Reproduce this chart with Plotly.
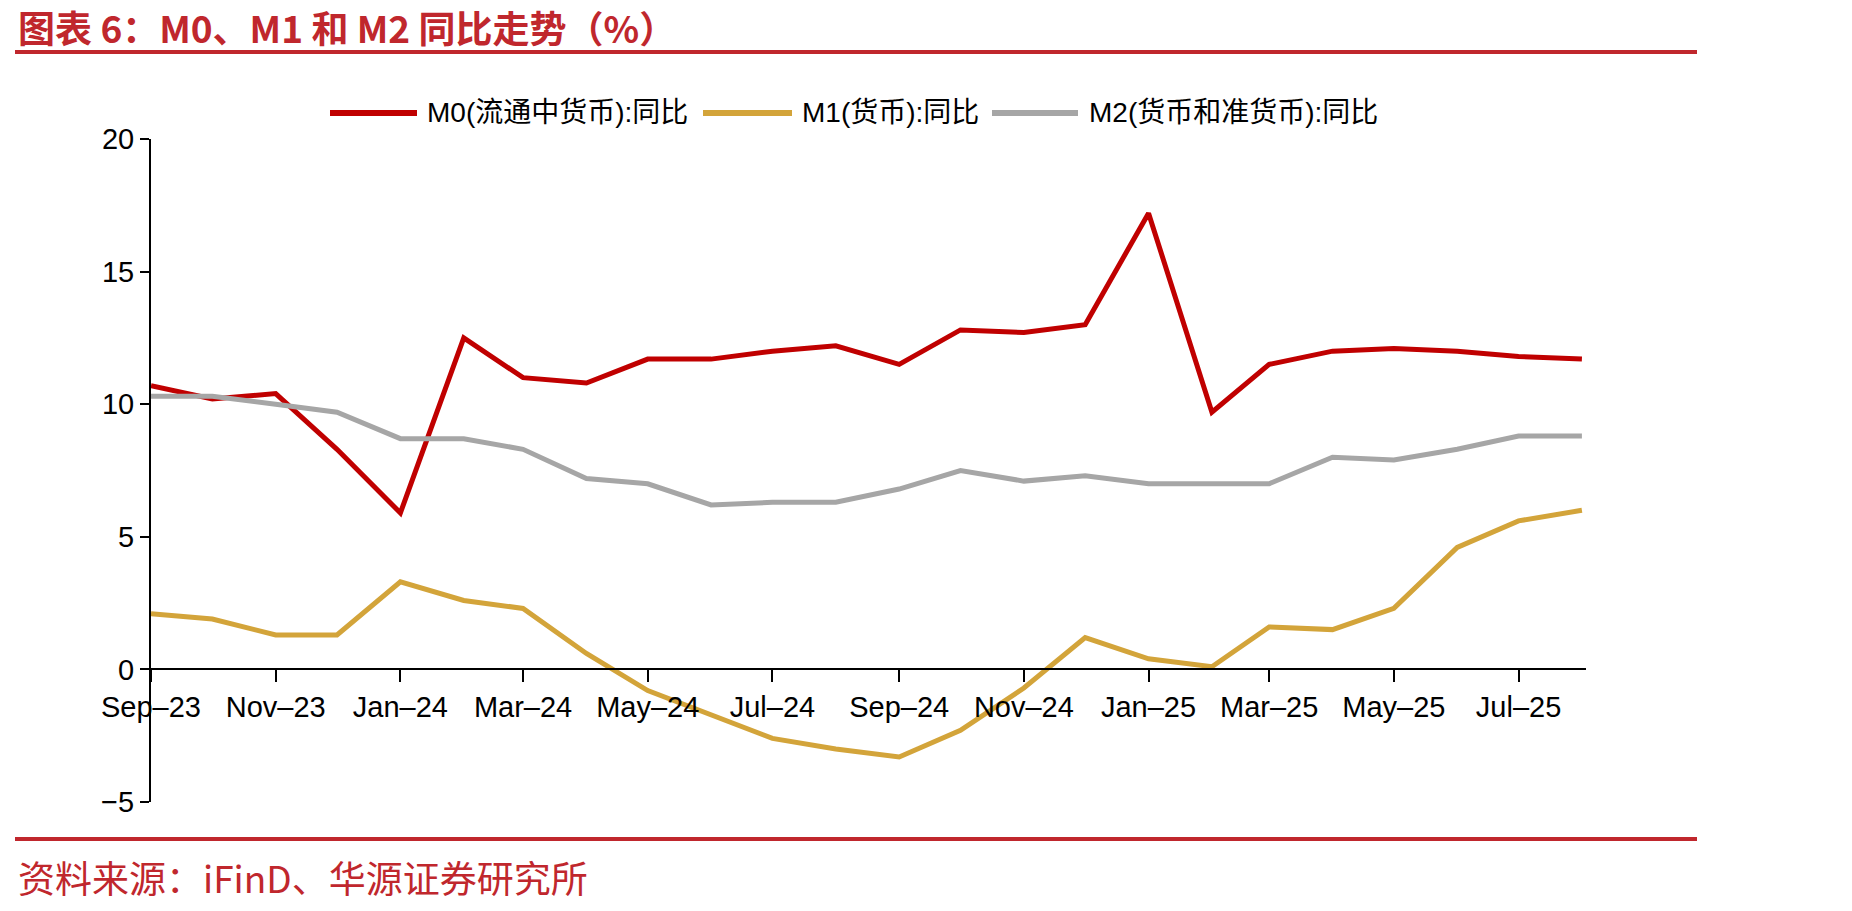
import plotly.graph_objects as go

# ---------------- data ----------------
months = ["2023-09-01", "2023-10-01", "2023-11-01", "2023-12-01",
          "2024-01-01", "2024-02-01", "2024-03-01", "2024-04-01",
          "2024-05-01", "2024-06-01", "2024-07-01", "2024-08-01",
          "2024-09-01", "2024-10-01", "2024-11-01", "2024-12-01",
          "2025-01-01", "2025-02-01", "2025-03-01", "2025-04-01",
          "2025-05-01", "2025-06-01", "2025-07-01", "2025-08-01"]

m0 = [10.7, 10.2, 10.4, 8.3, 5.9, 12.5, 11.0, 10.8, 11.7, 11.7, 12.0, 12.2,
      11.5, 12.8, 12.7, 13.0, 17.2, 9.7, 11.5, 12.0, 12.1, 12.0, 11.8, 11.7]
m1 = [2.1, 1.9, 1.3, 1.3, 3.3, 2.6, 2.3, 0.6, -0.8, -1.7, -2.6, -3.0,
      -3.3, -2.3, -0.7, 1.2, 0.4, 0.1, 1.6, 1.5, 2.3, 4.6, 5.6, 6.0]
m2 = [10.3, 10.3, 10.0, 9.7, 8.7, 8.7, 8.3, 7.2, 7.0, 6.2, 6.3, 6.3,
      6.8, 7.5, 7.1, 7.3, 7.0, 7.0, 7.0, 8.0, 7.9, 8.3, 8.8, 8.8]

series_names = ["M0(流通中货币):同比", "M1(货币):同比", "M2(货币和准货币):同比"]
series_values = [m0, m1, m2]
series_colors = ["#C00000", "#D3A43A", "#A6A6A6"]

title_text = "图表 6：M0、M1 和 M2 同比走势（%）"
source_text = "资料来源：iFinD、华源证券研究所"

# ---------------- layout geometry ----------------
W, H = 1852, 911
L, R, T, B = 151, 266, 139, 109
PW, PH = W - L - R, H - T - B


def px(x):
    return (x - L) / PW


def py(y):
    return (H - B - y) / PH


FONT = "Liberation Sans, Arial, Noto Sans CJK SC, sans-serif"
RED = "#C0272D"

fig = go.Figure()
for name, vals, col in zip(series_names, series_values, series_colors):
    fig.add_trace(go.Scatter(x=months, y=vals, mode="lines", name=name,
                             line=dict(color=col, width=5), showlegend=False))

shapes = []
annotations = []

# header / footer rules
shapes.append(dict(type="line", xref="paper", yref="paper", x0=px(15), x1=px(1697),
                   y0=py(52), y1=py(52), line=dict(color=RED, width=4)))
shapes.append(dict(type="line", xref="paper", yref="paper", x0=px(15), x1=px(1697),
                   y0=py(839), y1=py(839), line=dict(color=RED, width=4)))

annotations.append(dict(text=title_text, xref="paper", yref="paper", x=px(16), y=py(27),
                        xanchor="left", yanchor="middle", showarrow=False,
                        font=dict(family="Noto Sans CJK SC", size=37, color=RED, weight="bold")))
annotations.append(dict(text=source_text, xref="paper", yref="paper", x=px(16), y=py(877),
                        xanchor="left", yanchor="middle", showarrow=False,
                        font=dict(family="Noto Sans CJK SC", size=37, color=RED)))

# custom legend
leg_lines = [(330, 417), (703, 792), (992, 1078)]
leg_text_x = [425, 800, 1087]
for (a, b), tx, name, col in zip(leg_lines, leg_text_x, series_names, series_colors):
    shapes.append(dict(type="line", xref="paper", yref="paper", x0=px(a), x1=px(b),
                       y0=py(113), y1=py(113), line=dict(color=col, width=6)))
    annotations.append(dict(text=name, xref="paper", yref="paper", x=px(tx), y=py(113),
                            xanchor="left", yanchor="middle", showarrow=False,
                            font=dict(family=FONT, size=28, color="#000000")))

fig.update_layout(
    width=W, height=H,
    margin=dict(l=L, r=R, t=T, b=B, pad=0),
    paper_bgcolor="white", plot_bgcolor="white",
    font=dict(family=FONT, color="#000000"),
    shapes=shapes, annotations=annotations,
    xaxis=dict(type="date", range=["2023-09-01", "2025-08-03"],
               tick0="2023-09-01", dtick="M2", tickformat="%b–%y",
               anchor="free", position=0.2,
               showline=True, linecolor="#000000", linewidth=2,
               ticks="outside", ticklen=12, tickwidth=2, tickcolor="#000000",
               tickfont=dict(family=FONT, size=29, color="#000000"),
               showgrid=False, zeroline=False),
    yaxis=dict(range=[-5, 20], dtick=5, tick0=0,
               showline=True, linecolor="#000000", linewidth=2,
               ticks="outside", ticklen=9, tickwidth=2, tickcolor="#000000",
               tickfont=dict(family=FONT, size=29, color="#000000"),
               tickformat="d",
               showgrid=False, zeroline=False),
)

fig.write_html("out.html")
